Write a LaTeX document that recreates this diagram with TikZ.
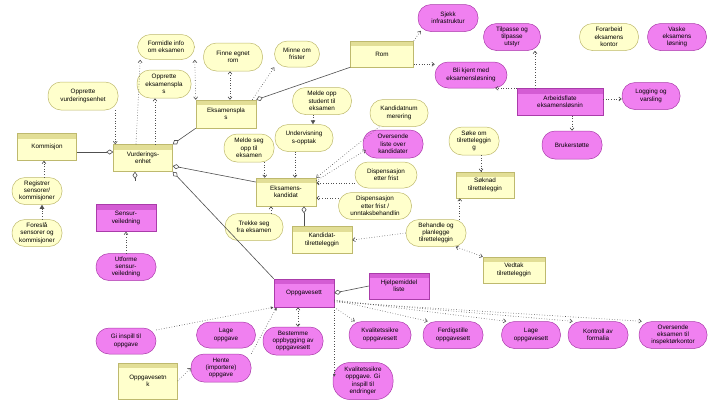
\documentclass[tikz,border=0pt]{standalone}
\usepackage{fontspec}
\setmainfont{Liberation Sans}
\usetikzlibrary{arrows.meta,calc}
\definecolor{ylfill}{RGB}{255,255,204}
\definecolor{ylborder}{RGB}{190,185,110}
\definecolor{ylhead}{RGB}{226,222,150}
\definecolor{mgfill}{RGB}{240,128,240}
\definecolor{mgborder}{RGB}{170,60,170}
\definecolor{mghead}{RGB}{212,92,212}
\definecolor{lncol}{RGB}{80,80,80}
\begin{document}
\begin{tikzpicture}[x=1pt,y=-1pt,
  base/.style={font=\fontsize{6.3}{7.3}\selectfont, align=center, inner sep=1pt, line width=0.5pt},
  ypill/.style 2 args={base, draw=ylborder, fill=ylfill, minimum width=#1pt, minimum height=#2pt, rounded corners=13pt},
  mpill/.style 2 args={base, draw=mgborder, fill=mgfill, minimum width=#1pt, minimum height=#2pt, rounded corners=13pt},
  ybox/.style 2 args={base, draw=ylborder, fill=ylfill, minimum width=#1pt, minimum height=#2pt,
    path picture={\fill[ylhead] (path picture bounding box.north west) rectangle ([yshift=-5pt]path picture bounding box.north east);}},
  mbox/.style 2 args={base, draw=mgborder, fill=mgfill, minimum width=#1pt, minimum height=#2pt,
    path picture={\fill[mghead] (path picture bounding box.north west) rectangle ([yshift=-5pt]path picture bounding box.north east);}},
  dep/.style={draw=lncol, dotted, line width=0.6pt, -{Straight Barb[length=2.5pt,width=4pt]}},
  depb/.style={draw=lncol, dotted, line width=0.6pt, {Straight Barb[length=2.5pt,width=4pt]}-{Straight Barb[length=2.5pt,width=4pt]}},
  depf/.style={draw=lncol, dotted, line width=0.6pt, -{Latex[length=3pt,width=3pt]}},
  inc/.style={draw=lncol, dotted, line width=0.6pt, -{Triangle[length=4pt,width=4.5pt]}},
  agg/.style={draw=lncol, line width=0.6pt, {Diamond[fill=white,length=7pt,width=5pt]}-}
]
\fill[white] (0,0) rectangle (720,405);
\useasboundingbox (0,0) rectangle (720,405);

% yellow pills
\node[ypill={57}{25}] (uform) at (166,47) {Formidle info\\om eksamen};
\node[ypill={54}{28}] (uoppeks) at (164,84) {Opprette\\eksamenspla\\s};
\node[ypill={70}{28}] (uoppvur) at (83,96) {Opprette\\vurderingsenhet};
\node[ypill={59}{28}] (ufinne) at (233,57) {Finne egnet\\rom};
\node[ypill={45}{26}] (uminne) at (297,54) {Minne om\\frister};
\node[ypill={59}{27}] (uforarb) at (609,37) {Forarbeid\\eksamens\\kontor};
\node[ypill={59}{27}] (umeldeopp) at (322,101) {Melde opp\\student til\\eksamen};
\node[ypill={58}{27}] (uunderv) at (304,138) {Undervisning\\s-opptak};
\node[ypill={58}{27}] (ukandnr) at (399,113) {Kandidatnum\\merering};
\node[ypill={50}{28}] (usoke) at (474,141) {Søke om\\tilretteleggin\\g};
\node[ypill={62}{26}] (udispfrist) at (386,175) {Dispensasjon\\etter frist};
\node[ypill={73}{27}] (udispunn) at (375,206) {Dispensasjon\\etter frist /\\unntaksbehandlin};
\node[ypill={60}{27}] (ubehandle) at (436,233) {Behandle og\\planlegge\\tilretteleggin};
\node[ypill={50}{28}] (umeldeseg) at (249,148) {Melde seg\\opp til\\eksamen};
\node[ypill={58}{27}] (utrekke) at (254,227) {Trekke seg\\fra eksamen};
\node[ypill={50}{27}] (uregistr) at (37,191) {Registrer\\sensorer/\\kommisjoner};
\node[ypill={50}{27}] (uforesla) at (37,233) {Foreslå\\sensorer og\\kommisjoner};

% magenta pills
\node[mpill={60}{27}] (msjekk) at (448,18) {Sjekk\\infrastruktur};
\node[mpill={57}{27}] (mtilpasse) at (512,37) {Tilpasse og\\tilpasse\\utstyr};
\node[mpill={72}{26}] (mblikjent) at (471,75) {Bli kjent med\\eksamensløsning};
\node[mpill={59}{27}] (mvaske) at (677,37) {Vaske\\eksamens\\løsning};
\node[mpill={58}{27}] (mlogging) at (651,96) {Logging og\\varsling};
\node[mpill={60}{28}] (mbruker) at (572,145) {Brukerstøtte};
\node[mpill={60}{28}] (moversende) at (393,144) {Oversende\\liste over\\kandidater};
\node[mpill={60}{27}] (mutforme) at (126,267) {Utforme\\sensur-\\veiledning};
\node[mpill={60}{26}] (mgiinspill) at (126,341) {Gi inspill til\\oppgave};
\node[mpill={59}{26}] (mlage) at (226,335) {Lage\\oppgave};
\node[mpill={60}{28}] (mbestemme) at (293,341) {Bestemme\\oppbygging av\\oppgavesett};
\node[mpill={60}{28}] (mhente) at (221,368) {Hente\\(importere)\\oppgave};
\node[mpill={62}{27}] (mkvalsett) at (380,335) {Kvalitetssikre\\oppgavesett};
\node[mpill={60}{27}] (mferdig) at (453,335) {Ferdigstille\\oppgavesett};
\node[mpill={59}{27}] (mlagesett) at (531,335) {Lage\\oppgavesett};
\node[mpill={60}{27}] (mkontroll) at (598,335) {Kontroll av\\formalia};
\node[mpill={68}{27}] (moversendeeks) at (673,335) {Oversende\\eksamen til\\inspektørkontor};
\node[mpill={60}{37}, rounded corners=17pt] (mkvaloppg) at (363,381) {Kvalitetssikre\\oppgave. Gi\\inspill til\\endringer};

% yellow boxes
\node[ybox={59}{27}] (bkommisjon) at (47,147) {Kommisjon};
\node[ybox={59}{27}] (bvurd) at (143,158) {Vurderings-\\enhet};
\node[ybox={60}{28}] (beksplass) at (226,114) {Eksamenspla\\s};
\node[ybox={63}{26}] (brom) at (382,54) {Rom};
\node[ybox={58}{26}] (bsoknad) at (485,185) {Søknad\\tilretteleggin};
\node[ybox={62}{26}] (bvedtak) at (514,270) {Vedtak\\tilretteleggin};
\node[ybox={60}{28}] (bkandidat) at (286,192) {Eksamens-\\kandidat};
\node[ybox={60}{27}] (bkandtil) at (322,240) {Kandidat-\\tilretteleggin};
\node[ybox={59}{36}] (boppgsetnk) at (148,381) {Oppgavesetn\\k};

% magenta boxes
\node[mbox={86}{27}] (barbeid) at (560,102) {Arbeidsflate\\eksamensløsnin};
\node[mbox={60}{27}] (bsensur) at (126,218) {Sensur-\\veiledning};
\node[mbox={60}{28}] (boppgsett) at (304,293) {Oppgavesett};
\node[mbox={60}{26}] (bhjelpe) at (399,286) {Hjelpemiddel\\liste};

\coordinate (vurdstub) at ($(bvurd.south)+(-8,9)$);

% aggregations
\draw[agg] ($(bvurd.west)+(0,-6)$) -- ($(bkommisjon.east |- bvurd.west)+(0,-6)$);
\draw[agg] (bvurd.north east) -- (beksplass.south west);
\draw[agg] ($(bvurd.south)+(-8,0)$) -- (vurdstub);
\draw[agg] ($(bvurd.east)+(0,8)$) -- ($(bkandidat.west)+(0,-10)$);
\draw[agg] (bvurd.south east) -- (boppgsett.north west);
\draw[agg] (beksplass.north east) -- (brom.south west);
\draw[agg] ($(bkandidat.south)+(18,0)$) -- ($(bkandidat.south |- bkandtil.north)+(18,0)$);
\draw[agg] (boppgsett.east) -- (bhjelpe.west);

% dependencies
\draw[dep] ($(bvurd.north west |- uoppvur.south)+(2,0)$) -- ($(bvurd.north west)+(2,0)$);
\draw[dep] ($(bvurd.north)+(-7,0)$) -- ($(uform.south west)+(3,0)$);
\draw[dep] ($(bvurd.north)+(12,0)$) -- ($(bvurd.north |- uoppeks.south)+(12,0)$);
\draw[depb] (beksplass.north west) -- (uform.south east);
\draw[depb] ($(beksplass.north)+(4,0)$) -- ($(beksplass.north |- ufinne.south)+(4,0)$);
\draw[dep] ($(beksplass.north east)+(-4,0)$) -- (uminne.south west);
\draw[dep] (brom.north east) -- ($(msjekk.south west)+(3,-1)$);
\draw[dep] ($(brom.south east)+(0,-3)$) -- ($(brom.south east -| mblikjent.west)+(0,-3)$);
\draw[dep] (barbeid.north west) -- ($(barbeid.north west -| mblikjent.south east)+(-12,0)$);
\draw[dep] ($(barbeid.north)+(-25,0)$) -- ($(barbeid.north |- mtilpasse.south)+(-25,0)$);
\draw[dep] ($(barbeid.east)+(0,-3)$) -- ($(barbeid.east -| mlogging.west)+(0,-3)$);
\draw[dep] (barbeid.south -| mbruker.north) -- (mbruker.north);
\draw[inc] ($(umeldeopp.south)+(-9,0)$) -- ($(umeldeopp.south |- uunderv.north)+(-9,0)$);
\draw[dep] ($(bkandidat.north west |- umeldeseg.south)+(9,0)$) -- ($(bkandidat.north west)+(9,0)$);
\draw[dep] ($(bkandidat.north |- uunderv.south)+(9,0)$) -- ($(bkandidat.north)+(9,0)$);
\draw[dep] (ukandnr.215) -- (bkandidat.north east);
\draw[dep] ($(bkandidat.north east)+(0,3)$) -- ($(moversende.west)+(3,6)$);
\draw[dep] ($(udispfrist.west |- bkandidat.east)+(0,-9)$) -- ($(bkandidat.east)+(0,-9)$);
\draw[dep] ($(udispunn.west |- bkandidat.east)+(0,6)$) -- ($(bkandidat.east)+(0,6)$);
\draw[dep] ($(bkandidat.south |- utrekke.north)+(-15,0)$) -- ($(bkandidat.south)+(-15,0)$);
\draw[dep] (ubehandle.west) -- (bkandtil.east);
\draw[dep] ($(bsoknad.south west |- ubehandle.north)+(4,0)$) -- ($(bsoknad.south west)+(4,0)$);
\draw[dep] ($(usoke.south)+(7,0)$) -- ($(usoke.south |- bsoknad.north)+(7,0)$);
\draw[depb] (bvedtak.north west) -- (ubehandle.-35);
\draw[dep] ($(bkommisjon.south |- uregistr.north)+(-3,0)$) -- ($(bkommisjon.south)+(-3,0)$);
\draw[inc] ($(uforesla.north)+(5,0)$) -- ($(uregistr.south)+(5,0)$);
\draw[dep] (mutforme.north) -- (bsensur.south);
\draw[depf] (mgiinspill.20) -- (boppgsett.south west);
\draw[depf] (mhente.north east) -- ($(boppgsett.south west)+(3,0)$);
\draw[dep] (boppgsetnk.east) -- (mhente.west);
\draw[depb] ($(boppgsett.south)+(-6,0)$) -- ($(boppgsett.south |- mbestemme.north)+(-6,0)$);
\draw[depf] (boppgsett.south east) -- ($(boppgsett.south east |- mkvaloppg.west)+(0,-4)$);
\draw[dep] (boppgsett.south east) -- ($(mkvalsett.north west)+(6,0)$);
\draw[dep] ($(boppgsett.east)+(0,7)$) -- ($(mferdig.north west)+(5,0)$);
\draw[dep] ($(boppgsett.east)+(0,7)$) -- ($(mlagesett.north west)+(5,0)$);
\draw[dep] ($(boppgsett.east)+(0,8)$) -- ($(mkontroll.north west)+(5,0)$);
\draw[dep] ($(boppgsett.east)+(0,9)$) -- ($(moversendeeks.north west)+(3,0)$);
\end{tikzpicture}
\end{document}
